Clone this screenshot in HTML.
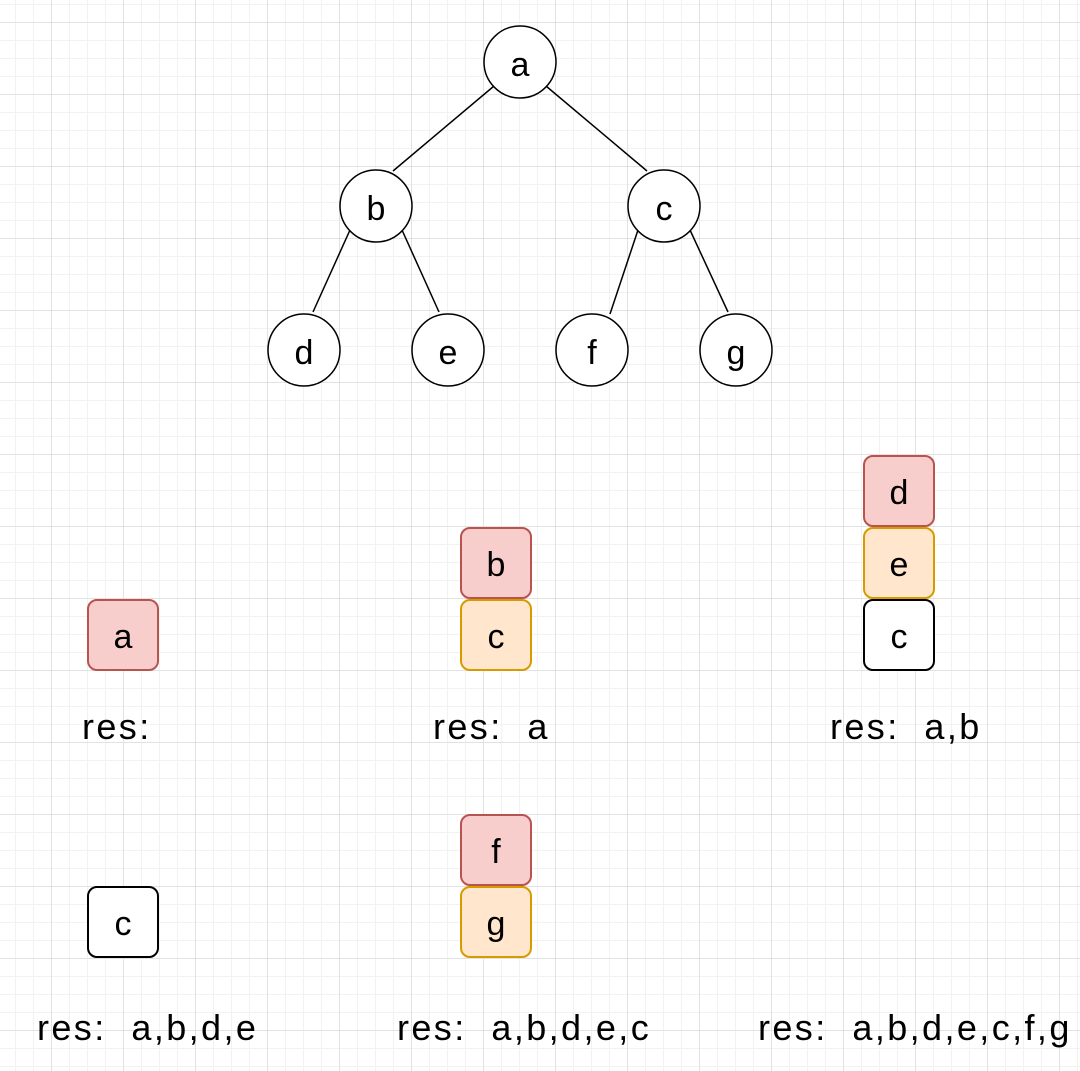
<!DOCTYPE html>
<html><head><meta charset="utf-8"><style>
html,body{margin:0;padding:0}
body{width:1080px;height:1071px;overflow:hidden;position:relative;background-color:#fff;
background-image:
linear-gradient(to right,#e2e2e2 1px,transparent 1px),
linear-gradient(to bottom,#e2e2e2 1px,transparent 1px),
linear-gradient(to right,#f2f2f2 1px,transparent 1px),
linear-gradient(to bottom,#f2f2f2 1px,transparent 1px);
background-size:72px 72px,72px 72px,18px 18px,18px 18px;
background-position:51px 22px,51px 22px,15px 4px,15px 4px;
font-family:"Liberation Sans",sans-serif;}
.b{position:absolute;width:72px;height:72px;border-radius:10px;box-sizing:border-box;border:2px solid #000;background:#fff;display:flex;align-items:center;justify-content:center;font-size:34px;padding-top:4px}
.r{background:#f8cecc;border-color:#b85450}
.o{background:#ffe6cc;border-color:#d79b00}
.t{position:absolute;font-size:36px;letter-spacing:2.4px;white-space:pre;line-height:1}
</style></head><body>
<svg width="1080" height="1071" style="position:absolute;left:0;top:0">
<g stroke="#000" stroke-width="1.5" fill="none">
<line x1="494" y1="86" x2="393" y2="171"/>
<line x1="546" y1="86" x2="647" y2="171"/>
<line x1="350" y1="230" x2="313" y2="312"/>
<line x1="402" y1="230" x2="439" y2="312"/>
<line x1="638" y1="230" x2="610" y2="314"/>
<line x1="690" y1="230" x2="728" y2="312"/>
</g>
<g stroke="#000" stroke-width="1.5" fill="#fff">
<circle cx="520" cy="62" r="36"/><circle cx="376" cy="206" r="36"/><circle cx="664" cy="206" r="36"/>
<circle cx="304" cy="350" r="36"/><circle cx="448" cy="350" r="36"/><circle cx="592" cy="350" r="36"/><circle cx="736" cy="350" r="36"/>
</g>
<g font-family="Liberation Sans,sans-serif" font-size="34" text-anchor="middle">
<text x="520" y="76">a</text><text x="376" y="220">b</text><text x="664" y="220">c</text>
<text x="304" y="364">d</text><text x="448" y="364">e</text><text x="592" y="364">f</text><text x="736" y="364">g</text>
</g>
</svg>
<div class="b r" style="left:87px;top:599px">a</div>
<div class="b r" style="left:460px;top:527px">b</div>
<div class="b o" style="left:460px;top:599px">c</div>
<div class="b r" style="left:863px;top:455px">d</div>
<div class="b o" style="left:863px;top:527px">e</div>
<div class="b" style="left:863px;top:599px">c</div>
<div class="b" style="left:87px;top:886px">c</div>
<div class="b r" style="left:460px;top:814px">f</div>
<div class="b o" style="left:460px;top:886px">g</div>
<div class="t" style="left:82px;top:709px">res:</div>
<div class="t" style="left:433px;top:709px">res:  a</div>
<div class="t" style="left:830px;top:709px">res:  a,b</div>
<div class="t" style="left:37px;top:1010px">res:  a,b,d,e</div>
<div class="t" style="left:397px;top:1010px">res:  a,b,d,e,c</div>
<div class="t" style="left:758px;top:1010px">res:  a,b,d,e,c,f,g</div>
</body></html>
